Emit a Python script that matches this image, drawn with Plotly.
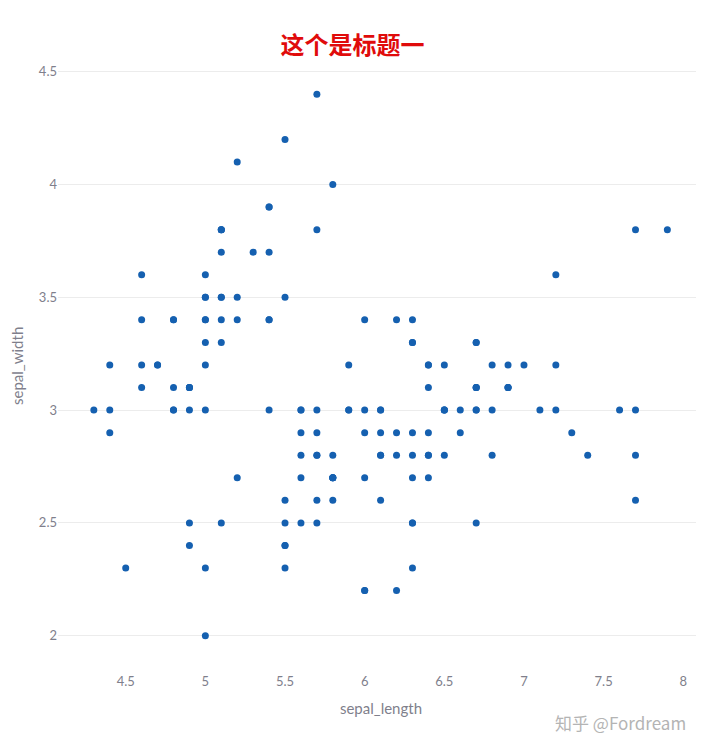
"""Iris scatter: sepal_length vs sepal_width with a Chinese title."""

import plotly.graph_objects as go

# sepal_length / sepal_width of the 150 iris samples
sepal_length = [
    5.1, 4.9, 4.7, 4.6, 5.0, 5.4, 4.6, 5.0, 4.4, 4.9,
    5.4, 4.8, 4.8, 4.3, 5.8, 5.7, 5.4, 5.1, 5.7, 5.1,
    5.4, 5.1, 4.6, 5.1, 4.8, 5.0, 5.0, 5.2, 5.2, 4.7,
    4.8, 5.4, 5.2, 5.5, 4.9, 5.0, 5.5, 4.9, 4.4, 5.1,
    5.0, 4.5, 4.4, 5.0, 5.1, 4.8, 5.1, 4.6, 5.3, 5.0,
    7.0, 6.4, 6.9, 5.5, 6.5, 5.7, 6.3, 4.9, 6.6, 5.2,
    5.0, 5.9, 6.0, 6.1, 5.6, 6.7, 5.6, 5.8, 6.2, 5.6,
    5.9, 6.1, 6.3, 6.1, 6.4, 6.6, 6.8, 6.7, 6.0, 5.7,
    5.5, 5.5, 5.8, 6.0, 5.4, 6.0, 6.7, 6.3, 5.6, 5.5,
    5.5, 6.1, 5.8, 5.0, 5.6, 5.7, 5.7, 6.2, 5.1, 5.7,
    6.3, 5.8, 7.1, 6.3, 6.5, 7.6, 4.9, 7.3, 6.7, 7.2,
    6.5, 6.4, 6.8, 5.7, 5.8, 6.4, 6.5, 7.7, 7.7, 6.0,
    6.9, 5.6, 7.7, 6.3, 6.7, 7.2, 6.2, 6.1, 6.4, 7.2,
    7.4, 7.9, 6.4, 6.3, 6.1, 7.7, 6.3, 6.4, 6.0, 6.9,
    6.7, 6.9, 5.8, 6.8, 6.7, 6.7, 6.3, 6.5, 6.2, 5.9,
]
sepal_width = [
    3.5, 3.0, 3.2, 3.1, 3.6, 3.9, 3.4, 3.4, 2.9, 3.1,
    3.7, 3.4, 3.0, 3.0, 4.0, 4.4, 3.9, 3.5, 3.8, 3.8,
    3.4, 3.7, 3.6, 3.3, 3.4, 3.0, 3.4, 3.5, 3.4, 3.2,
    3.1, 3.4, 4.1, 4.2, 3.1, 3.2, 3.5, 3.1, 3.0, 3.4,
    3.5, 2.3, 3.2, 3.5, 3.8, 3.0, 3.8, 3.2, 3.7, 3.3,
    3.2, 3.2, 3.1, 2.3, 2.8, 2.8, 3.3, 2.4, 2.9, 2.7,
    2.0, 3.0, 2.2, 2.9, 2.9, 3.1, 3.0, 2.7, 2.2, 2.5,
    3.2, 2.8, 2.5, 2.8, 2.9, 3.0, 2.8, 3.0, 2.9, 2.6,
    2.4, 2.4, 2.7, 2.7, 3.0, 3.4, 3.1, 2.3, 3.0, 2.5,
    2.6, 3.0, 2.6, 2.3, 2.7, 3.0, 2.9, 2.9, 2.5, 2.8,
    3.3, 2.7, 3.0, 2.9, 3.0, 3.0, 2.5, 2.9, 2.5, 3.6,
    3.2, 2.7, 3.0, 2.5, 2.8, 3.2, 3.0, 3.8, 2.6, 2.2,
    3.2, 2.8, 2.8, 2.7, 3.3, 3.2, 2.8, 3.0, 2.8, 3.0,
    2.8, 3.8, 2.8, 2.8, 2.6, 3.0, 3.4, 3.1, 3.0, 3.1,
    3.1, 3.1, 2.7, 3.2, 3.3, 3.0, 2.5, 3.0, 3.4, 3.0,
]

title_text = "这个是标题一"
x_title = "sepal_length"
y_title = "sepal_width"
watermark_text = "知乎 @Fordream"

font_color = "#7f7f8c"

fig = go.Figure()

fig.add_trace(go.Scatter(
    x=sepal_length,
    y=sepal_width,
    mode="markers",
    marker=dict(color="#1560b0", size=7),
    showlegend=False,
))

# the page body has an 8px margin, so the figure is a bit smaller
fig.update_layout(
    width=696,
    height=742,
    paper_bgcolor="white",
    plot_bgcolor="white",
    font=dict(family="Lato, Noto Sans", size=13, color=font_color),
    title=dict(
        text="<b>" + title_text + "</b>",
        x=0.495,
        xanchor="center",
        y=0.95,
        yanchor="middle",
        font=dict(family="Noto Sans CJK SC", size=24, color="#e00b0b"),
    ),
    margin=dict(l=50, r=0, t=52, b=78),
    xaxis=dict(
        title=dict(text=x_title, font=dict(size=15)),
        range=[4.075, 8.13],
        showgrid=False,
        zeroline=False,
        showline=False,
        tickvals=[4.5, 5, 5.5, 6, 6.5, 7, 7.5, 8],
    ),
    yaxis=dict(
        range=[1.839, 4.552],
        gridcolor="#ececec",
        zeroline=False,
        showline=False,
        tickvals=[2, 2.5, 3, 3.5, 4, 4.5],
    ),
)

# y axis title sits close to the left edge, so it is drawn as an annotation
fig.add_annotation(
    text=y_title,
    xref="paper", yref="paper",
    x=-0.0635, y=0.5,
    xanchor="center", yanchor="middle",
    textangle=-90,
    showarrow=False,
    font=dict(size=15, color=font_color),
)

# zhihu watermark in the bottom-right corner
fig.add_annotation(
    text=watermark_text,
    xref="paper", yref="paper",
    x=0.975, y=-0.0817,
    xanchor="right", yanchor="middle",
    showarrow=False,
    font=dict(family="Noto Sans CJK SC", size=17, color="#b4b4b4"),
)

fig.write_html("out.html")
